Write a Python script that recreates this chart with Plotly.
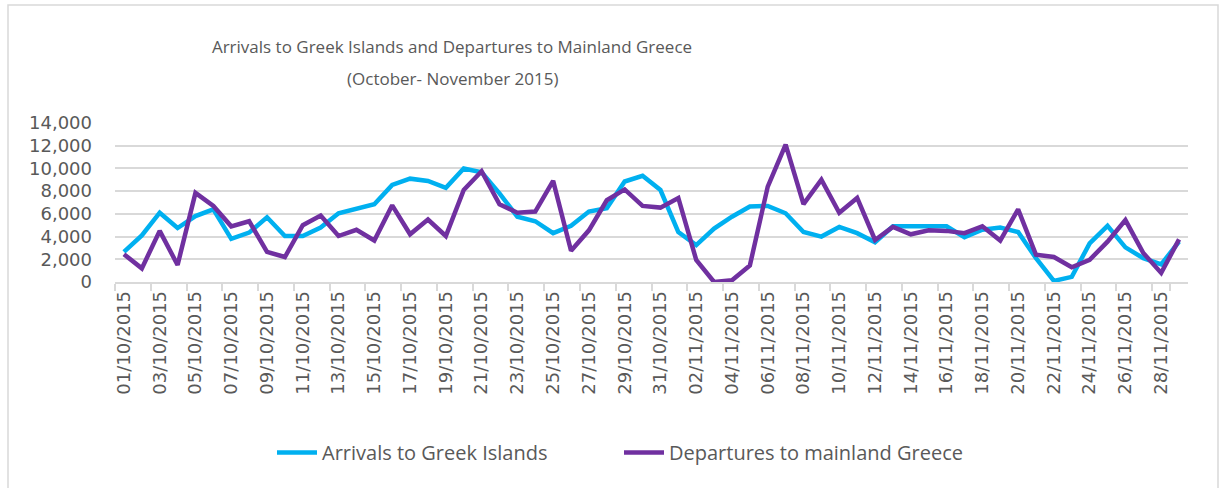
import datetime as dt
import plotly.graph_objects as go

# Categories: daily dates 01/10/2015 .. 29/11/2015
start = dt.date(2015, 10, 1)
dates = [(start + dt.timedelta(days=i)).strftime("%d/%m/%Y") for i in range(60)]
tick_labels = dates[::2]

arrivals = [2650, 4100, 6100, 4750, 5800, 6400, 3800, 4350, 5700, 4050,
            4050, 4800, 6050, 6400, 6850, 8550, 9100, 8900, 8300, 10000,
            9650, 7800, 5750, 5350, 4300, 4950, 6200, 6500, 8850, 9350,
            8100, 4400, 3250, 4700, 5750, 6650, 6700, 6050, 4400, 4000,
            4850, 4300, 3500, 4900, 4900, 4900, 4900, 3950, 4600, 4800,
            4400, 2100, 100, 450, 3400, 4950, 3050, 2100, 1550, 3550]

departures = [2450, 1200, 4500, 1500, 7850, 6700, 4900, 5350, 2650, 2200,
              5000, 5850, 4050, 4600, 3650, 6750, 4200, 5500, 4050, 8100,
              9750, 6850, 6100, 6200, 8900, 2750, 4550, 7200, 8150, 6700,
              6550, 7400, 1950, 0, 150, 1450, 8400, 12100, 6850, 9000,
              6100, 7400, 3700, 4850, 4200, 4550, 4500, 4300, 4900, 3650,
              6400, 2400, 2200, 1300, 1950, 3550, 5450, 2550, 800, 3750]

title_line1 = "Arrivals to Greek Islands and Departures to Mainland Greece"
title_line2 = "(October- November 2015)"
series_names = ["Arrivals to Greek Islands", "Departures to mainland Greece"]
colors = ["#00B0F0", "#7030A0"]

FONT = "Open Sans"
TICKFONT = "DejaVu Sans"
TXT = "#595959"
W, H = 1224, 488
PL, PR, PT, PB = 115, 1188, 123, 282  # plot area in pixels

fig = go.Figure()
for name, vals, col in zip(series_names, [arrivals, departures], colors):
    fig.add_trace(go.Scatter(x=dates, y=vals, mode="lines", name=name,
                             line=dict(color=col, width=4.5)))

fig.update_layout(
    width=W, height=H,
    margin=dict(l=PL, r=W - PR, t=PT, b=H - PB, autoexpand=False),
    paper_bgcolor="white", plot_bgcolor="white",
    font=dict(family=FONT, color=TXT),
    title=dict(text=title_line1, x=452/W, xanchor="center",
               y=1 - 47/H, yanchor="middle",
               font=dict(family=FONT, size=17, color=TXT)),
    showlegend=True,
    legend=dict(orientation="h", x=272/W, xanchor="left", xref="container",
                y=1 - 452.5/H, yanchor="middle", yref="container",
                font=dict(family=FONT, size=20, color=TXT),
                entrywidth=292, entrywidthmode="pixels",
                itemwidth=40, traceorder="normal"),
    xaxis=dict(type="category", range=[-0.5, 59.5], automargin=False,
               tickmode="array", tickvals=tick_labels, ticktext=tick_labels,
               tickangle=-90, tickson="boundaries", ticks="outside",
               ticklen=7, tickcolor="#d9d9d9", tickwidth=1.5,
               showgrid=False, showline=True, linecolor="#d9d9d9", linewidth=1.5,
               tickfont=dict(family=TICKFONT, size=18, color=TXT), zeroline=False),
    yaxis=dict(range=[0, 14000], dtick=2000, tick0=0, tickformat=",",
               automargin=False, ticklabelstandoff=22,
               showgrid=True, gridcolor="#d9d9d9", gridwidth=1.5,
               zeroline=False, showline=False, ticks="",
               tickfont=dict(family=TICKFONT, size=18, color=TXT)),
)

def px_x(p):
    return (p - PL) / (PR - PL)

def px_y(p):
    return (PB - p) / (PB - PT)

fig.add_annotation(text=title_line2, xref="paper", yref="paper",
                   x=px_x(452), y=px_y(78),
                   xanchor="center", yanchor="middle", showarrow=False,
                   font=dict(family=FONT, size=17, color=TXT))

# outer chart border
fig.add_shape(type="rect", xref="paper", yref="paper",
              x0=px_x(8), x1=px_x(1218), y0=px_y(495), y1=px_y(5),
              line=dict(color="#d9d9d9", width=1.5), fillcolor="rgba(0,0,0,0)",
              layer="below")

fig.write_html("out.html", config={"displayModeBar": False},
               post_script="document.body.style.margin='0';")
